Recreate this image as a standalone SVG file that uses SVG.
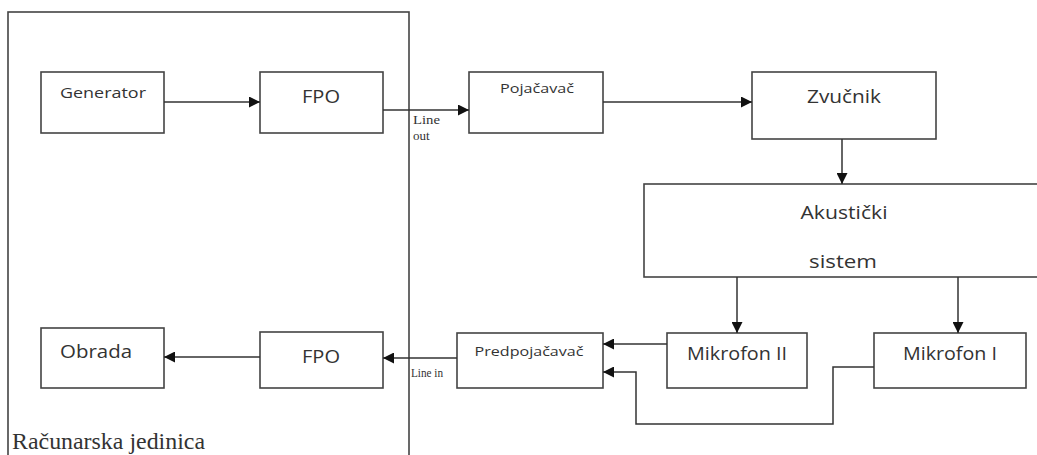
<svg xmlns="http://www.w3.org/2000/svg" width="1037" height="455" viewBox="0 0 1037 455">
<style>
.box{fill:#fff;stroke:#444;stroke-width:1.6}
.t{font-family:"Open Sans","Liberation Sans",sans-serif;fill:#333;text-anchor:middle}
.s{font-family:"Liberation Serif",serif;fill:#333}
.c{fill:none;stroke:#333;stroke-width:1.5}
</style>
<defs>
<marker id="ah" viewBox="0 0 10 10" refX="10" refY="5" markerWidth="11" markerHeight="11" markerUnits="userSpaceOnUse" orient="auto">
<path d="M0,0 L10,5 L0,10 z" fill="#111"/>
</marker>
</defs>
<rect width="1037" height="455" fill="#fff"/>
<g id="racunarska-jedinica">
<rect x="8" y="12" width="401" height="450" class="box"/>
<text x="12" y="449" class="s" font-size="23" textLength="193" lengthAdjust="spacingAndGlyphs">Računarska jedinica</text>
</g>
<g id="generator"><rect x="41" y="72" width="123" height="61" class="box"/><text x="103" y="98" class="t" font-size="15" textLength="86" lengthAdjust="spacingAndGlyphs">Generator</text></g>
<g id="fpo1"><rect x="260" y="72" width="123" height="61" class="box"/><text x="321" y="103" class="t" font-size="18" textLength="38" lengthAdjust="spacingAndGlyphs">FPO</text></g>
<g id="pojacavac"><rect x="469" y="72" width="134" height="61" class="box"/><text x="537" y="93" class="t" font-size="13" textLength="74" lengthAdjust="spacingAndGlyphs">Pojačavač</text></g>
<g id="zvucnik"><rect x="752" y="72" width="184" height="67" class="box"/><text x="844" y="103" class="t" font-size="18" textLength="74" lengthAdjust="spacingAndGlyphs">Zvučnik</text></g>
<g id="akusticki-sistem"><rect x="644" y="184" width="400" height="93" class="box"/><text x="844" y="219" class="t" font-size="18" textLength="87" lengthAdjust="spacingAndGlyphs">Akustički</text><text x="843" y="268" class="t" font-size="18" textLength="68" lengthAdjust="spacingAndGlyphs">sistem</text></g>
<g id="mikrofon2"><rect x="667" y="333" width="140" height="55" class="box"/><text x="737" y="360" class="t" font-size="18" textLength="100" lengthAdjust="spacingAndGlyphs">Mikrofon II</text></g>
<g id="mikrofon1"><rect x="874" y="333" width="152" height="55" class="box"/><text x="950" y="360" class="t" font-size="18" textLength="94" lengthAdjust="spacingAndGlyphs">Mikrofon I</text></g>
<g id="predpojacavac"><rect x="457" y="333" width="146" height="55" class="box"/><text x="529" y="356" class="t" font-size="13" textLength="109" lengthAdjust="spacingAndGlyphs">Predpojačavač</text></g>
<g id="fpo2"><rect x="260" y="332" width="123" height="56" class="box"/><text x="321" y="363" class="t" font-size="18" textLength="38" lengthAdjust="spacingAndGlyphs">FPO</text></g>
<g id="obrada"><rect x="41" y="328" width="123" height="60" class="box"/><text x="96" y="358" class="t" font-size="18" textLength="72" lengthAdjust="spacingAndGlyphs">Obrada</text></g>
<g id="connectors">
<path d="M164,102 H260" class="c" marker-end="url(#ah)"/>
<path d="M383,110 H469" class="c" marker-end="url(#ah)"/>
<path d="M603,102 H752" class="c" marker-end="url(#ah)"/>
<path d="M842,139 V184" class="c" marker-end="url(#ah)"/>
<path d="M737,277 V333" class="c" marker-end="url(#ah)"/>
<path d="M958,277 V333" class="c" marker-end="url(#ah)"/>
<path d="M667,344 H603" class="c" marker-end="url(#ah)"/>
<path d="M874,367 H833 V424 H636 V372 H603" class="c" marker-end="url(#ah)"/>
<path d="M457,358 H383" class="c" marker-end="url(#ah)"/>
<path d="M260,357 H164" class="c" marker-end="url(#ah)"/>
<text x="413" y="124" class="s" font-size="13" textLength="27" lengthAdjust="spacingAndGlyphs">Line</text>
<text x="413" y="140" class="s" font-size="13">out</text>
<text x="411" y="377" class="s" font-size="12" textLength="32" lengthAdjust="spacingAndGlyphs">Line in</text>
</g>
</svg>
